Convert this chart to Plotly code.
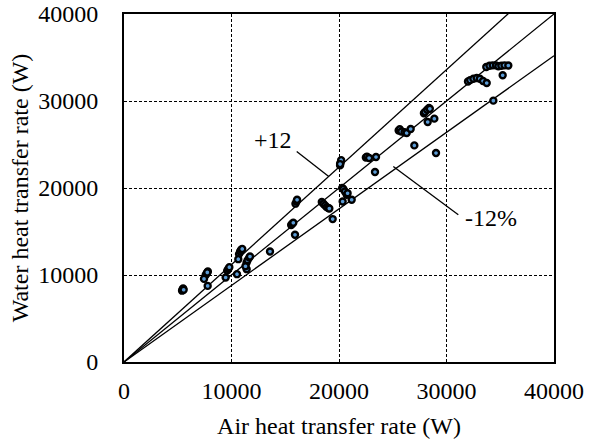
import plotly.graph_objects as go

# Measured points: air heat transfer rate (W) vs water heat transfer rate (W)
air_w = [5400, 5450, 5500, 5550,
         7600, 7700, 7800, 7750, 7442, 7783,
         9600, 9700, 9800, 9457, 10512,
         10700, 10800, 10900, 11000, 10633,
         11400, 11500, 11650, 11720, 11410, 11300,
         13581, 15907,
         15950, 16050, 16100,
         15550, 15650, 15750,
         18400, 18550, 18700, 18850, 19006, 19100,
         19411,
         20100, 20150, 20200, 20100,
         20300, 20400, 20550, 20717, 20800,
         20340, 21180,
         22500, 22600, 22800, 23442,
         23349,
         25550, 25650, 25800, 26100, 26295, 26667,
         27008,
         27900, 28000, 28200, 28372, 28450,
         28250, 28868, 29023,
         32000, 32200, 32500, 32810, 33100, 33400, 33740,
         33700, 34000, 34300, 34600, 34825, 35100, 35400, 35750,
         35225, 34357]
water_w = [8200, 8350, 8450, 8300,
           10000, 10200, 10400, 10300, 9554, 8748,
           10500, 10700, 10900, 9705, 10095,
           12400, 12700, 12900, 13000, 11820,
           11400, 11700, 12000, 12120, 10670, 11000,
           12697, 14618,
           18200, 18450, 18650,
           15750, 15900, 16000,
           18400, 18200, 18000, 17800, 17693, 17650,
           16426,
           22600, 22900, 23200, 22750,
           20000, 19877, 19600, 19222, 19400,
           18451, 18647,
           23500, 23600, 23450, 23560,
           21835,
           26600, 26750, 26500, 26400, 26321, 26782,
           24897,
           28600, 28750, 29000, 29201, 29100,
           27590, 27971, 24019,
           32250, 32400, 32550, 32650, 32550, 32300, 32077,
           33900, 34050, 34100, 34100, 34000, 34050, 34100, 34072,
           32956, 30043]

ref_x = [0, 40000]
slopes = [1.12, 1.0, 0.88]

x_ticks = [0, 10000, 20000, 30000, 40000]
y_ticks = [0, 10000, 20000, 30000, 40000]

FONT = "Liberation Serif, Times New Roman, serif"
FS = 24

fig = go.Figure()

for s in slopes:
    fig.add_trace(go.Scatter(
        x=ref_x, y=[v * s for v in ref_x], mode="lines",
        line=dict(color="black", width=1.3), showlegend=False, hoverinfo="skip"))

fig.add_trace(go.Scatter(
    x=air_w, y=water_w, mode="markers",
    marker=dict(size=6, color="#5b9bd5", line=dict(color="black", width=2.4)),
    showlegend=False))

# leader lines for labels
fig.add_trace(go.Scatter(x=[16065, 19045], y=[24207, 21330], mode="lines",
                         line=dict(color="black", width=1.3), showlegend=False, hoverinfo="skip"))
fig.add_trace(go.Scatter(x=[25051, 31098], y=[22481, 16921], mode="lines",
                         line=dict(color="black", width=1.3), showlegend=False, hoverinfo="skip"))

fig.add_annotation(x=13814, y=25554, text="+12", showarrow=False,
                   font=dict(family=FONT, size=FS, color="black"))
fig.add_annotation(x=34093, y=16576, text="-12%", showarrow=False,
                   font=dict(family=FONT, size=FS, color="black"))

axis_common = dict(
    range=[0, 40000], showline=True, mirror=True, linecolor="black", linewidth=2,
    showgrid=True, gridcolor="black", gridwidth=1, griddash="3px,2px",
    zeroline=False, ticks="outside", tickcolor="rgba(0,0,0,0)", automargin=False,
    tickfont=dict(family=FONT, size=FS, color="black"),
)

fig.update_xaxes(**axis_common, tickvals=x_ticks, ticktext=[str(v) for v in x_ticks], ticklen=6,
                 title=dict(text="Air heat transfer rate (W)", standoff=14,
                            font=dict(family=FONT, size=FS, color="black")))
fig.update_yaxes(**axis_common, tickvals=y_ticks, ticktext=[str(v) for v in y_ticks], ticklen=19,
                 title=dict(text="Water heat transfer rate (W)", standoff=3,
                            font=dict(family=FONT, size=FS, color="black")))

fig.update_layout(
    width=601, height=443,
    margin=dict(l=124, r=47, t=14, b=81),
    plot_bgcolor="white", paper_bgcolor="white",
)

fig.write_html("out.html", config={"displayModeBar": False},
               post_script="document.body.style.margin='0';document.body.style.padding='0';")
